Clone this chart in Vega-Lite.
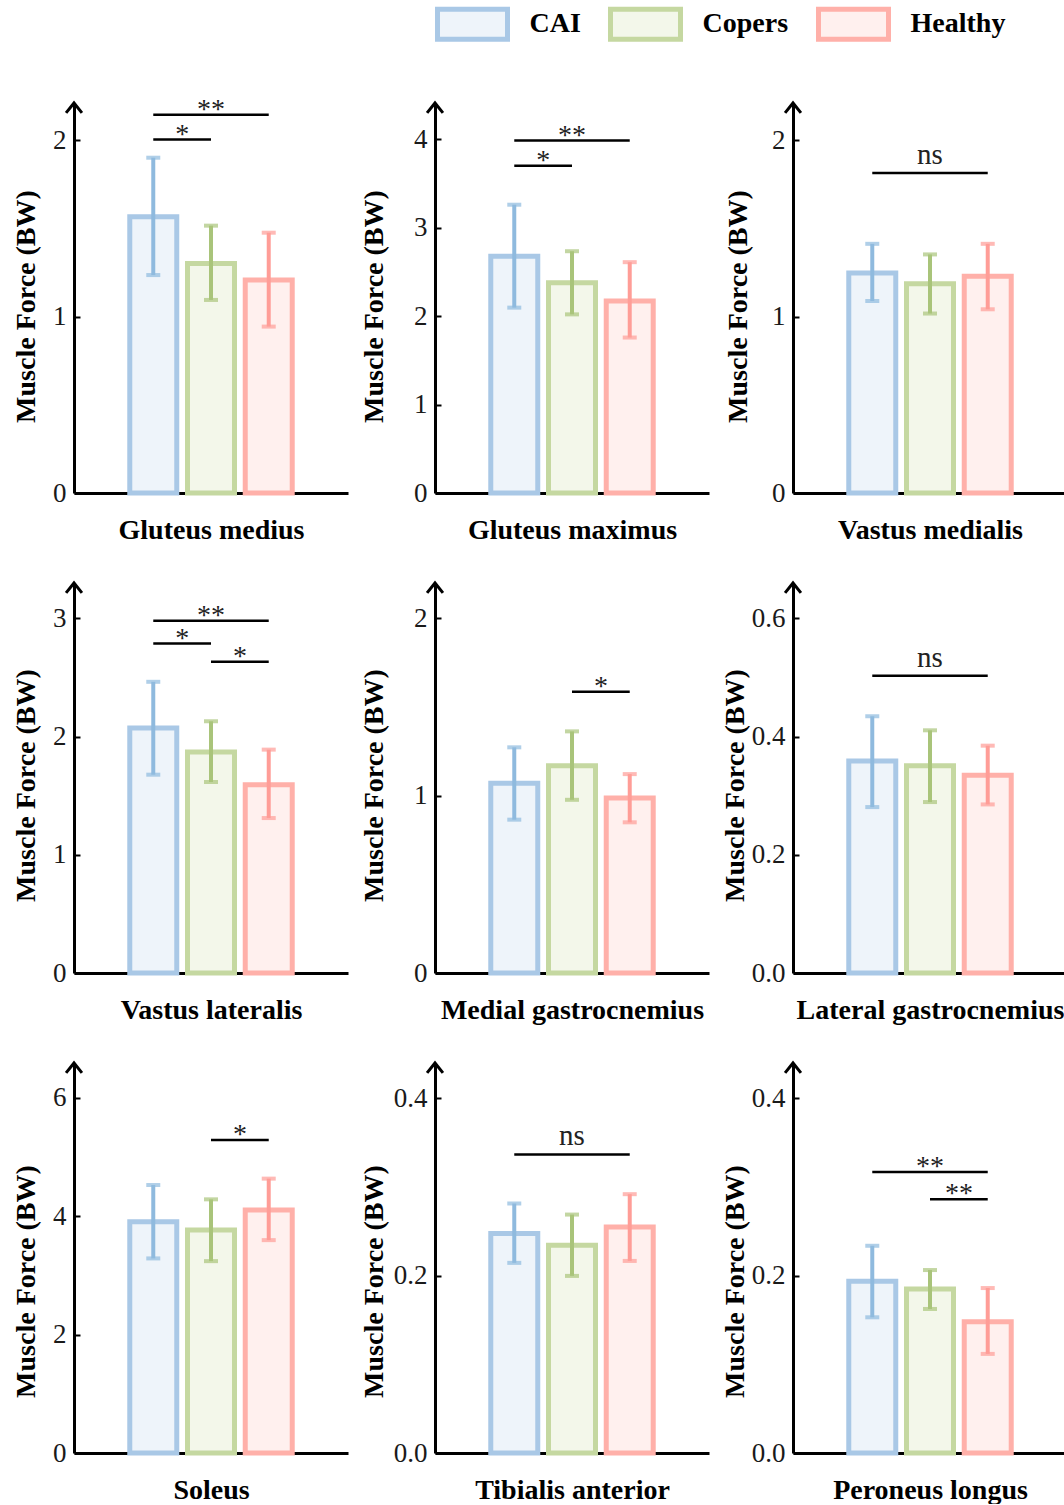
{
  "$schema": "https://vega.github.io/schema/vega-lite/v6.json",
  "autosize": {"type": "pad"},
  "padding": {"left": 12, "top": 6, "right": 0, "bottom": 0},
  "background": "white",
  "datasets": {
    "bars": [
      {"muscle": "Gluteus medius", "group": "CAI", "mean": 1.565, "lo": 1.235, "hi": 1.9},
      {"muscle": "Gluteus medius", "group": "Copers", "mean": 1.3, "lo": 1.094, "hi": 1.515},
      {"muscle": "Gluteus medius", "group": "Healthy", "mean": 1.207, "lo": 0.943, "hi": 1.475},
      {"muscle": "Gluteus maximus", "group": "CAI", "mean": 2.677, "lo": 2.096, "hi": 3.26},
      {"muscle": "Gluteus maximus", "group": "Copers", "mean": 2.378, "lo": 2.02, "hi": 2.734},
      {"muscle": "Gluteus maximus", "group": "Healthy", "mean": 2.17, "lo": 1.758, "hi": 2.61},
      {"muscle": "Vastus medialis", "group": "CAI", "mean": 1.246, "lo": 1.088, "hi": 1.412},
      {"muscle": "Vastus medialis", "group": "Copers", "mean": 1.186, "lo": 1.017, "hi": 1.352},
      {"muscle": "Vastus medialis", "group": "Healthy", "mean": 1.228, "lo": 1.041, "hi": 1.412},
      {"muscle": "Vastus lateralis", "group": "CAI", "mean": 2.074, "lo": 1.678, "hi": 2.464},
      {"muscle": "Vastus lateralis", "group": "Copers", "mean": 1.87, "lo": 1.616, "hi": 2.13},
      {"muscle": "Vastus lateralis", "group": "Healthy", "mean": 1.593, "lo": 1.311, "hi": 1.89},
      {"muscle": "Medial gastrocnemius", "group": "CAI", "mean": 1.07, "lo": 0.865, "hi": 1.273},
      {"muscle": "Medial gastrocnemius", "group": "Copers", "mean": 1.169, "lo": 0.977, "hi": 1.363},
      {"muscle": "Medial gastrocnemius", "group": "Healthy", "mean": 0.987, "lo": 0.85, "hi": 1.122},
      {"muscle": "Lateral gastrocnemius", "group": "CAI", "mean": 0.3588, "lo": 0.2808, "hi": 0.4345},
      {"muscle": "Lateral gastrocnemius", "group": "Copers", "mean": 0.3508, "lo": 0.2893, "hi": 0.4107},
      {"muscle": "Lateral gastrocnemius", "group": "Healthy", "mean": 0.3345, "lo": 0.2853, "hi": 0.3847},
      {"muscle": "Soleus", "group": "CAI", "mean": 3.909, "lo": 3.288, "hi": 4.528},
      {"muscle": "Soleus", "group": "Copers", "mean": 3.767, "lo": 3.242, "hi": 4.286},
      {"muscle": "Soleus", "group": "Healthy", "mean": 4.105, "lo": 3.597, "hi": 4.636},
      {"muscle": "Tibialis anterior", "group": "CAI", "mean": 0.2476, "lo": 0.2145, "hi": 0.2815},
      {"muscle": "Tibialis anterior", "group": "Copers", "mean": 0.2344, "lo": 0.1998, "hi": 0.269},
      {"muscle": "Tibialis anterior", "group": "Healthy", "mean": 0.2551, "lo": 0.2167, "hi": 0.292},
      {"muscle": "Peroneus longus", "group": "CAI", "mean": 0.1937, "lo": 0.1531, "hi": 0.2338},
      {"muscle": "Peroneus longus", "group": "Copers", "mean": 0.185, "lo": 0.1625, "hi": 0.2064},
      {"muscle": "Peroneus longus", "group": "Healthy", "mean": 0.1482, "lo": 0.1118, "hi": 0.1861}
    ],
    "sig": [
      {"muscle": "Gluteus medius", "from": "CAI", "to": "Copers", "y": 2.003, "label": "*"},
      {"muscle": "Gluteus medius", "from": "CAI", "to": "Healthy", "y": 2.143, "label": "**"},
      {"muscle": "Gluteus maximus", "from": "CAI", "to": "Copers", "y": 3.7, "label": "*"},
      {"muscle": "Gluteus maximus", "from": "CAI", "to": "Healthy", "y": 3.985, "label": "**"},
      {"muscle": "Vastus medialis", "from": "CAI", "to": "Healthy", "y": 1.813, "label": "ns"},
      {"muscle": "Vastus lateralis", "from": "CAI", "to": "Healthy", "y": 2.98, "label": "**"},
      {"muscle": "Vastus lateralis", "from": "CAI", "to": "Copers", "y": 2.788, "label": "*"},
      {"muscle": "Vastus lateralis", "from": "Copers", "to": "Healthy", "y": 2.633, "label": "*"},
      {"muscle": "Medial gastrocnemius", "from": "Copers", "to": "Healthy", "y": 1.587, "label": "*"},
      {"muscle": "Lateral gastrocnemius", "from": "CAI", "to": "Healthy", "y": 0.503, "label": "ns"},
      {"muscle": "Soleus", "from": "Copers", "to": "Healthy", "y": 5.29, "label": "*"},
      {"muscle": "Tibialis anterior", "from": "CAI", "to": "Healthy", "y": 0.3368, "label": "ns"},
      {"muscle": "Peroneus longus", "from": "CAI", "to": "Healthy", "y": 0.317, "label": "**"},
      {"muscle": "Peroneus longus", "from": "Copers", "to": "Healthy", "y": 0.2864, "label": "**"}
    ]
  },
  "columns": 3,
  "spacing": {"row": 33, "column": 12},
  "concat": [
    {
      "width": 274, "height": 390,
      "layer": [
        {"data": {"name": "bars"}, "transform": [{"filter": "datum.muscle === 'Gluteus medius'"}],
         "layer": [
          {"mark": {"type": "bar", "strokeWidth": 5},
           "encoding": {
             "x": {"field": "group", "type": "nominal", "scale": {"domain": ["CAI", "Copers", "Healthy"], "paddingInner": 0.186, "paddingOuter": 0.966}, "axis": {"title": "Gluteus medius", "labels": false, "values": ["Copers"]}},
             "y": {"field": "mean", "type": "quantitative", "scale": {"domain": [0, 2.21], "nice": false}, "axis": {"title": "Muscle Force (BW)", "values": [0, 1, 2], "format": "d", "titlePadding": 12.5, "titleY": 203}},
             "fill": {"field": "group", "type": "nominal", "title": null, "scale": {"domain": ["CAI", "Copers", "Healthy"], "range": ["#eef4fa", "#f3f7ea", "#fff0ee"]},
               "legend": {"orient": "none", "legendX": 361, "legendY": -96.5, "direction": "horizontal", "title": null}},
             "stroke": {"field": "group", "type": "nominal", "title": null, "scale": {"domain": ["CAI", "Copers", "Healthy"], "range": ["#a9c8e6", "#c5d8a1", "#ffb0a9"]},
               "legend": {"orient": "none", "legendX": 361, "legendY": -96.5, "direction": "horizontal", "title": null}}
           }},
          {"mark": {"type": "rule", "strokeWidth": 4},
           "encoding": {"x": {"field": "group", "type": "nominal"}, "y": {"field": "lo", "type": "quantitative"}, "y2": {"field": "hi"},
             "color": {"field": "group", "type": "nominal", "legend": null, "scale": {"domain": ["CAI", "Copers", "Healthy"], "range": ["#8fbade", "#a9c47a", "#ff9d97"]}}}},
          {"mark": {"type": "tick", "thickness": 4, "size": 14},
           "encoding": {"x": {"field": "group", "type": "nominal"}, "y": {"field": "lo", "type": "quantitative"}, "color": {"field": "group", "type": "nominal", "legend": null}}},
          {"mark": {"type": "tick", "thickness": 4, "size": 14},
           "encoding": {"x": {"field": "group", "type": "nominal"}, "y": {"field": "hi", "type": "quantitative"}, "color": {"field": "group", "type": "nominal", "legend": null}}}
         ]},
        {"data": {"name": "sig"}, "transform": [{"filter": "datum.muscle === 'Gluteus medius'"}],
         "layer": [
          {"mark": {"type": "rule", "strokeWidth": 2.5, "color": "black"},
           "encoding": {"x": {"field": "from", "type": "nominal", "bandPosition": 0.5}, "x2": {"field": "to", "bandPosition": 0.5}, "y": {"field": "y", "type": "quantitative"}}},
          {"transform": [{"filter": "datum.label === 'ns'"}], "mark": {"type": "text", "font": "Liberation Serif", "fontSize": 29, "color": "#222", "baseline": "alphabetic", "dy": -9, "dx": 57.7},
           "encoding": {"x": {"field": "from", "type": "nominal", "bandPosition": 0.5}, "y": {"field": "y", "type": "quantitative"}, "text": {"field": "label"}}},
          {"transform": [{"filter": "datum.label !== 'ns' && datum.from === 'CAI' && datum.to === 'Healthy'"}], "mark": {"type": "text", "font": "Liberation Serif", "fontSize": 28, "color": "#222", "baseline": "alphabetic", "dy": 3, "dx": 57.7},
           "encoding": {"x": {"field": "from", "type": "nominal", "bandPosition": 0.5}, "y": {"field": "y", "type": "quantitative"}, "text": {"field": "label"}}},
          {"transform": [{"filter": "datum.label !== 'ns' && !(datum.from === 'CAI' && datum.to === 'Healthy')"}], "mark": {"type": "text", "font": "Liberation Serif", "fontSize": 28, "color": "#222", "baseline": "alphabetic", "dy": 3, "dx": 28.9},
           "encoding": {"x": {"field": "from", "type": "nominal", "bandPosition": 0.5}, "y": {"field": "y", "type": "quantitative"}, "text": {"field": "label"}}}
         ]},
        {"data": {"values": [{}]}, "mark": {"type": "point", "shape": "M-0.6,0.75L0,0L0.6,0.75", "filled": false, "stroke": "black", "strokeWidth": 3, "size": 700, "opacity": 1},
         "encoding": {"x": {"value": 0}, "y": {"value": 0}}}
      ]
    },
    {
      "width": 274, "height": 390,
      "layer": [
        {"data": {"name": "bars"}, "transform": [{"filter": "datum.muscle === 'Gluteus maximus'"}],
         "layer": [
          {"mark": {"type": "bar", "strokeWidth": 5},
           "encoding": {
             "x": {"field": "group", "type": "nominal", "scale": {"domain": ["CAI", "Copers", "Healthy"], "paddingInner": 0.186, "paddingOuter": 0.966}, "axis": {"title": "Gluteus maximus", "labels": false, "values": ["Copers"]}},
             "y": {"field": "mean", "type": "quantitative", "scale": {"domain": [0, 4.41], "nice": false}, "axis": {"title": "Muscle Force (BW)", "values": [0, 1, 2, 3, 4], "format": "d", "titlePadding": 25.5, "titleY": 203}},
             "fill": {"field": "group", "type": "nominal", "title": null},
             "stroke": {"field": "group", "type": "nominal", "title": null}
           }},
          {"mark": {"type": "rule", "strokeWidth": 4},
           "encoding": {"x": {"field": "group", "type": "nominal"}, "y": {"field": "lo", "type": "quantitative"}, "y2": {"field": "hi"}, "color": {"field": "group", "type": "nominal", "legend": null}}},
          {"mark": {"type": "tick", "thickness": 4, "size": 14},
           "encoding": {"x": {"field": "group", "type": "nominal"}, "y": {"field": "lo", "type": "quantitative"}, "color": {"field": "group", "type": "nominal", "legend": null}}},
          {"mark": {"type": "tick", "thickness": 4, "size": 14},
           "encoding": {"x": {"field": "group", "type": "nominal"}, "y": {"field": "hi", "type": "quantitative"}, "color": {"field": "group", "type": "nominal", "legend": null}}}
         ]},
        {"data": {"name": "sig"}, "transform": [{"filter": "datum.muscle === 'Gluteus maximus'"}],
         "layer": [
          {"mark": {"type": "rule", "strokeWidth": 2.5, "color": "black"},
           "encoding": {"x": {"field": "from", "type": "nominal", "bandPosition": 0.5}, "x2": {"field": "to", "bandPosition": 0.5}, "y": {"field": "y", "type": "quantitative"}}},
          {"transform": [{"filter": "datum.label === 'ns'"}], "mark": {"type": "text", "font": "Liberation Serif", "fontSize": 29, "color": "#222", "baseline": "alphabetic", "dy": -9, "dx": 57.7},
           "encoding": {"x": {"field": "from", "type": "nominal", "bandPosition": 0.5}, "y": {"field": "y", "type": "quantitative"}, "text": {"field": "label"}}},
          {"transform": [{"filter": "datum.label !== 'ns' && datum.from === 'CAI' && datum.to === 'Healthy'"}], "mark": {"type": "text", "font": "Liberation Serif", "fontSize": 28, "color": "#222", "baseline": "alphabetic", "dy": 3, "dx": 57.7},
           "encoding": {"x": {"field": "from", "type": "nominal", "bandPosition": 0.5}, "y": {"field": "y", "type": "quantitative"}, "text": {"field": "label"}}},
          {"transform": [{"filter": "datum.label !== 'ns' && !(datum.from === 'CAI' && datum.to === 'Healthy')"}], "mark": {"type": "text", "font": "Liberation Serif", "fontSize": 28, "color": "#222", "baseline": "alphabetic", "dy": 3, "dx": 28.9},
           "encoding": {"x": {"field": "from", "type": "nominal", "bandPosition": 0.5}, "y": {"field": "y", "type": "quantitative"}, "text": {"field": "label"}}}
         ]},
        {"data": {"values": [{}]}, "mark": {"type": "point", "shape": "M-0.6,0.75L0,0L0.6,0.75", "filled": false, "stroke": "black", "strokeWidth": 3, "size": 700, "opacity": 1},
         "encoding": {"x": {"value": 0}, "y": {"value": 0}}}
      ]
    },
    {
      "width": 274, "height": 390,
      "layer": [
        {"data": {"name": "bars"}, "transform": [{"filter": "datum.muscle === 'Vastus medialis'"}],
         "layer": [
          {"mark": {"type": "bar", "strokeWidth": 5},
           "encoding": {
             "x": {"field": "group", "type": "nominal", "scale": {"domain": ["CAI", "Copers", "Healthy"], "paddingInner": 0.186, "paddingOuter": 0.966}, "axis": {"title": "Vastus medialis", "labels": false, "values": ["Copers"]}},
             "y": {"field": "mean", "type": "quantitative", "scale": {"domain": [0, 2.21], "nice": false}, "axis": {"title": "Muscle Force (BW)", "values": [0, 1, 2], "format": "d", "titlePadding": 19.5, "titleY": 203}},
             "fill": {"field": "group", "type": "nominal", "title": null},
             "stroke": {"field": "group", "type": "nominal", "title": null}
           }},
          {"mark": {"type": "rule", "strokeWidth": 4},
           "encoding": {"x": {"field": "group", "type": "nominal"}, "y": {"field": "lo", "type": "quantitative"}, "y2": {"field": "hi"}, "color": {"field": "group", "type": "nominal", "legend": null}}},
          {"mark": {"type": "tick", "thickness": 4, "size": 14},
           "encoding": {"x": {"field": "group", "type": "nominal"}, "y": {"field": "lo", "type": "quantitative"}, "color": {"field": "group", "type": "nominal", "legend": null}}},
          {"mark": {"type": "tick", "thickness": 4, "size": 14},
           "encoding": {"x": {"field": "group", "type": "nominal"}, "y": {"field": "hi", "type": "quantitative"}, "color": {"field": "group", "type": "nominal", "legend": null}}}
         ]},
        {"data": {"name": "sig"}, "transform": [{"filter": "datum.muscle === 'Vastus medialis'"}],
         "layer": [
          {"mark": {"type": "rule", "strokeWidth": 2.5, "color": "black"},
           "encoding": {"x": {"field": "from", "type": "nominal", "bandPosition": 0.5}, "x2": {"field": "to", "bandPosition": 0.5}, "y": {"field": "y", "type": "quantitative"}}},
          {"transform": [{"filter": "datum.label === 'ns'"}], "mark": {"type": "text", "font": "Liberation Serif", "fontSize": 29, "color": "#222", "baseline": "alphabetic", "dy": -9, "dx": 57.7},
           "encoding": {"x": {"field": "from", "type": "nominal", "bandPosition": 0.5}, "y": {"field": "y", "type": "quantitative"}, "text": {"field": "label"}}},
          {"transform": [{"filter": "datum.label !== 'ns' && datum.from === 'CAI' && datum.to === 'Healthy'"}], "mark": {"type": "text", "font": "Liberation Serif", "fontSize": 28, "color": "#222", "baseline": "alphabetic", "dy": 3, "dx": 57.7},
           "encoding": {"x": {"field": "from", "type": "nominal", "bandPosition": 0.5}, "y": {"field": "y", "type": "quantitative"}, "text": {"field": "label"}}},
          {"transform": [{"filter": "datum.label !== 'ns' && !(datum.from === 'CAI' && datum.to === 'Healthy')"}], "mark": {"type": "text", "font": "Liberation Serif", "fontSize": 28, "color": "#222", "baseline": "alphabetic", "dy": 3, "dx": 28.9},
           "encoding": {"x": {"field": "from", "type": "nominal", "bandPosition": 0.5}, "y": {"field": "y", "type": "quantitative"}, "text": {"field": "label"}}}
         ]},
        {"data": {"values": [{}]}, "mark": {"type": "point", "shape": "M-0.6,0.75L0,0L0.6,0.75", "filled": false, "stroke": "black", "strokeWidth": 3, "size": 700, "opacity": 1},
         "encoding": {"x": {"value": 0}, "y": {"value": 0}}}
      ]
    },
    {
      "width": 274, "height": 390,
      "layer": [
        {"data": {"name": "bars"}, "transform": [{"filter": "datum.muscle === 'Vastus lateralis'"}],
         "layer": [
          {"mark": {"type": "bar", "strokeWidth": 5},
           "encoding": {
             "x": {"field": "group", "type": "nominal", "scale": {"domain": ["CAI", "Copers", "Healthy"], "paddingInner": 0.186, "paddingOuter": 0.966}, "axis": {"title": "Vastus lateralis", "labels": false, "values": ["Copers"]}},
             "y": {"field": "mean", "type": "quantitative", "scale": {"domain": [0, 3.3], "nice": false}, "axis": {"title": "Muscle Force (BW)", "values": [0, 1, 2, 3], "format": "d", "titlePadding": 12.5, "titleY": 202}},
             "fill": {"field": "group", "type": "nominal", "title": null},
             "stroke": {"field": "group", "type": "nominal", "title": null}
           }},
          {"mark": {"type": "rule", "strokeWidth": 4},
           "encoding": {"x": {"field": "group", "type": "nominal"}, "y": {"field": "lo", "type": "quantitative"}, "y2": {"field": "hi"}, "color": {"field": "group", "type": "nominal", "legend": null}}},
          {"mark": {"type": "tick", "thickness": 4, "size": 14},
           "encoding": {"x": {"field": "group", "type": "nominal"}, "y": {"field": "lo", "type": "quantitative"}, "color": {"field": "group", "type": "nominal", "legend": null}}},
          {"mark": {"type": "tick", "thickness": 4, "size": 14},
           "encoding": {"x": {"field": "group", "type": "nominal"}, "y": {"field": "hi", "type": "quantitative"}, "color": {"field": "group", "type": "nominal", "legend": null}}}
         ]},
        {"data": {"name": "sig"}, "transform": [{"filter": "datum.muscle === 'Vastus lateralis'"}],
         "layer": [
          {"mark": {"type": "rule", "strokeWidth": 2.5, "color": "black"},
           "encoding": {"x": {"field": "from", "type": "nominal", "bandPosition": 0.5}, "x2": {"field": "to", "bandPosition": 0.5}, "y": {"field": "y", "type": "quantitative"}}},
          {"transform": [{"filter": "datum.label === 'ns'"}], "mark": {"type": "text", "font": "Liberation Serif", "fontSize": 29, "color": "#222", "baseline": "alphabetic", "dy": -9, "dx": 57.7},
           "encoding": {"x": {"field": "from", "type": "nominal", "bandPosition": 0.5}, "y": {"field": "y", "type": "quantitative"}, "text": {"field": "label"}}},
          {"transform": [{"filter": "datum.label !== 'ns' && datum.from === 'CAI' && datum.to === 'Healthy'"}], "mark": {"type": "text", "font": "Liberation Serif", "fontSize": 28, "color": "#222", "baseline": "alphabetic", "dy": 3, "dx": 57.7},
           "encoding": {"x": {"field": "from", "type": "nominal", "bandPosition": 0.5}, "y": {"field": "y", "type": "quantitative"}, "text": {"field": "label"}}},
          {"transform": [{"filter": "datum.label !== 'ns' && !(datum.from === 'CAI' && datum.to === 'Healthy')"}], "mark": {"type": "text", "font": "Liberation Serif", "fontSize": 28, "color": "#222", "baseline": "alphabetic", "dy": 3, "dx": 28.9},
           "encoding": {"x": {"field": "from", "type": "nominal", "bandPosition": 0.5}, "y": {"field": "y", "type": "quantitative"}, "text": {"field": "label"}}}
         ]},
        {"data": {"values": [{}]}, "mark": {"type": "point", "shape": "M-0.6,0.75L0,0L0.6,0.75", "filled": false, "stroke": "black", "strokeWidth": 3, "size": 700, "opacity": 1},
         "encoding": {"x": {"value": 0}, "y": {"value": 0}}}
      ]
    },
    {
      "width": 274, "height": 390,
      "layer": [
        {"data": {"name": "bars"}, "transform": [{"filter": "datum.muscle === 'Medial gastrocnemius'"}],
         "layer": [
          {"mark": {"type": "bar", "strokeWidth": 5},
           "encoding": {
             "x": {"field": "group", "type": "nominal", "scale": {"domain": ["CAI", "Copers", "Healthy"], "paddingInner": 0.186, "paddingOuter": 0.966}, "axis": {"title": "Medial gastrocnemius", "labels": false, "values": ["Copers"]}},
             "y": {"field": "mean", "type": "quantitative", "scale": {"domain": [0, 2.2], "nice": false}, "axis": {"title": "Muscle Force (BW)", "values": [0, 1, 2], "format": "d", "titlePadding": 25.5, "titleY": 202}},
             "fill": {"field": "group", "type": "nominal", "title": null},
             "stroke": {"field": "group", "type": "nominal", "title": null}
           }},
          {"mark": {"type": "rule", "strokeWidth": 4},
           "encoding": {"x": {"field": "group", "type": "nominal"}, "y": {"field": "lo", "type": "quantitative"}, "y2": {"field": "hi"}, "color": {"field": "group", "type": "nominal", "legend": null}}},
          {"mark": {"type": "tick", "thickness": 4, "size": 14},
           "encoding": {"x": {"field": "group", "type": "nominal"}, "y": {"field": "lo", "type": "quantitative"}, "color": {"field": "group", "type": "nominal", "legend": null}}},
          {"mark": {"type": "tick", "thickness": 4, "size": 14},
           "encoding": {"x": {"field": "group", "type": "nominal"}, "y": {"field": "hi", "type": "quantitative"}, "color": {"field": "group", "type": "nominal", "legend": null}}}
         ]},
        {"data": {"name": "sig"}, "transform": [{"filter": "datum.muscle === 'Medial gastrocnemius'"}],
         "layer": [
          {"mark": {"type": "rule", "strokeWidth": 2.5, "color": "black"},
           "encoding": {"x": {"field": "from", "type": "nominal", "bandPosition": 0.5}, "x2": {"field": "to", "bandPosition": 0.5}, "y": {"field": "y", "type": "quantitative"}}},
          {"transform": [{"filter": "datum.label === 'ns'"}], "mark": {"type": "text", "font": "Liberation Serif", "fontSize": 29, "color": "#222", "baseline": "alphabetic", "dy": -9, "dx": 57.7},
           "encoding": {"x": {"field": "from", "type": "nominal", "bandPosition": 0.5}, "y": {"field": "y", "type": "quantitative"}, "text": {"field": "label"}}},
          {"transform": [{"filter": "datum.label !== 'ns' && datum.from === 'CAI' && datum.to === 'Healthy'"}], "mark": {"type": "text", "font": "Liberation Serif", "fontSize": 28, "color": "#222", "baseline": "alphabetic", "dy": 3, "dx": 57.7},
           "encoding": {"x": {"field": "from", "type": "nominal", "bandPosition": 0.5}, "y": {"field": "y", "type": "quantitative"}, "text": {"field": "label"}}},
          {"transform": [{"filter": "datum.label !== 'ns' && !(datum.from === 'CAI' && datum.to === 'Healthy')"}], "mark": {"type": "text", "font": "Liberation Serif", "fontSize": 28, "color": "#222", "baseline": "alphabetic", "dy": 3, "dx": 28.9},
           "encoding": {"x": {"field": "from", "type": "nominal", "bandPosition": 0.5}, "y": {"field": "y", "type": "quantitative"}, "text": {"field": "label"}}}
         ]},
        {"data": {"values": [{}]}, "mark": {"type": "point", "shape": "M-0.6,0.75L0,0L0.6,0.75", "filled": false, "stroke": "black", "strokeWidth": 3, "size": 700, "opacity": 1},
         "encoding": {"x": {"value": 0}, "y": {"value": 0}}}
      ]
    },
    {
      "width": 274, "height": 390,
      "layer": [
        {"data": {"name": "bars"}, "transform": [{"filter": "datum.muscle === 'Lateral gastrocnemius'"}],
         "layer": [
          {"mark": {"type": "bar", "strokeWidth": 5},
           "encoding": {
             "x": {"field": "group", "type": "nominal", "scale": {"domain": ["CAI", "Copers", "Healthy"], "paddingInner": 0.186, "paddingOuter": 0.966}, "axis": {"title": "Lateral gastrocnemius", "labels": false, "values": ["Copers"]}},
             "y": {"field": "mean", "type": "quantitative", "scale": {"domain": [0, 0.66], "nice": false}, "axis": {"title": "Muscle Force (BW)", "values": [0, 0.2, 0.4, 0.6], "format": ".1f", "titlePadding": 2, "titleY": 202}},
             "fill": {"field": "group", "type": "nominal", "title": null},
             "stroke": {"field": "group", "type": "nominal", "title": null}
           }},
          {"mark": {"type": "rule", "strokeWidth": 4},
           "encoding": {"x": {"field": "group", "type": "nominal"}, "y": {"field": "lo", "type": "quantitative"}, "y2": {"field": "hi"}, "color": {"field": "group", "type": "nominal", "legend": null}}},
          {"mark": {"type": "tick", "thickness": 4, "size": 14},
           "encoding": {"x": {"field": "group", "type": "nominal"}, "y": {"field": "lo", "type": "quantitative"}, "color": {"field": "group", "type": "nominal", "legend": null}}},
          {"mark": {"type": "tick", "thickness": 4, "size": 14},
           "encoding": {"x": {"field": "group", "type": "nominal"}, "y": {"field": "hi", "type": "quantitative"}, "color": {"field": "group", "type": "nominal", "legend": null}}}
         ]},
        {"data": {"name": "sig"}, "transform": [{"filter": "datum.muscle === 'Lateral gastrocnemius'"}],
         "layer": [
          {"mark": {"type": "rule", "strokeWidth": 2.5, "color": "black"},
           "encoding": {"x": {"field": "from", "type": "nominal", "bandPosition": 0.5}, "x2": {"field": "to", "bandPosition": 0.5}, "y": {"field": "y", "type": "quantitative"}}},
          {"transform": [{"filter": "datum.label === 'ns'"}], "mark": {"type": "text", "font": "Liberation Serif", "fontSize": 29, "color": "#222", "baseline": "alphabetic", "dy": -9, "dx": 57.7},
           "encoding": {"x": {"field": "from", "type": "nominal", "bandPosition": 0.5}, "y": {"field": "y", "type": "quantitative"}, "text": {"field": "label"}}},
          {"transform": [{"filter": "datum.label !== 'ns' && datum.from === 'CAI' && datum.to === 'Healthy'"}], "mark": {"type": "text", "font": "Liberation Serif", "fontSize": 28, "color": "#222", "baseline": "alphabetic", "dy": 3, "dx": 57.7},
           "encoding": {"x": {"field": "from", "type": "nominal", "bandPosition": 0.5}, "y": {"field": "y", "type": "quantitative"}, "text": {"field": "label"}}},
          {"transform": [{"filter": "datum.label !== 'ns' && !(datum.from === 'CAI' && datum.to === 'Healthy')"}], "mark": {"type": "text", "font": "Liberation Serif", "fontSize": 28, "color": "#222", "baseline": "alphabetic", "dy": 3, "dx": 28.9},
           "encoding": {"x": {"field": "from", "type": "nominal", "bandPosition": 0.5}, "y": {"field": "y", "type": "quantitative"}, "text": {"field": "label"}}}
         ]},
        {"data": {"values": [{}]}, "mark": {"type": "point", "shape": "M-0.6,0.75L0,0L0.6,0.75", "filled": false, "stroke": "black", "strokeWidth": 3, "size": 700, "opacity": 1},
         "encoding": {"x": {"value": 0}, "y": {"value": 0}}}
      ]
    },
    {
      "width": 274, "height": 390,
      "layer": [
        {"data": {"name": "bars"}, "transform": [{"filter": "datum.muscle === 'Soleus'"}],
         "layer": [
          {"mark": {"type": "bar", "strokeWidth": 5},
           "encoding": {
             "x": {"field": "group", "type": "nominal", "scale": {"domain": ["CAI", "Copers", "Healthy"], "paddingInner": 0.186, "paddingOuter": 0.966}, "axis": {"title": "Soleus", "labels": false, "values": ["Copers"]}},
             "y": {"field": "mean", "type": "quantitative", "scale": {"domain": [0, 6.59], "nice": false}, "axis": {"title": "Muscle Force (BW)", "values": [0, 2, 4, 6], "format": "d", "titlePadding": 12.5, "titleY": 218}},
             "fill": {"field": "group", "type": "nominal", "title": null},
             "stroke": {"field": "group", "type": "nominal", "title": null}
           }},
          {"mark": {"type": "rule", "strokeWidth": 4},
           "encoding": {"x": {"field": "group", "type": "nominal"}, "y": {"field": "lo", "type": "quantitative"}, "y2": {"field": "hi"}, "color": {"field": "group", "type": "nominal", "legend": null}}},
          {"mark": {"type": "tick", "thickness": 4, "size": 14},
           "encoding": {"x": {"field": "group", "type": "nominal"}, "y": {"field": "lo", "type": "quantitative"}, "color": {"field": "group", "type": "nominal", "legend": null}}},
          {"mark": {"type": "tick", "thickness": 4, "size": 14},
           "encoding": {"x": {"field": "group", "type": "nominal"}, "y": {"field": "hi", "type": "quantitative"}, "color": {"field": "group", "type": "nominal", "legend": null}}}
         ]},
        {"data": {"name": "sig"}, "transform": [{"filter": "datum.muscle === 'Soleus'"}],
         "layer": [
          {"mark": {"type": "rule", "strokeWidth": 2.5, "color": "black"},
           "encoding": {"x": {"field": "from", "type": "nominal", "bandPosition": 0.5}, "x2": {"field": "to", "bandPosition": 0.5}, "y": {"field": "y", "type": "quantitative"}}},
          {"transform": [{"filter": "datum.label === 'ns'"}], "mark": {"type": "text", "font": "Liberation Serif", "fontSize": 29, "color": "#222", "baseline": "alphabetic", "dy": -9, "dx": 57.7},
           "encoding": {"x": {"field": "from", "type": "nominal", "bandPosition": 0.5}, "y": {"field": "y", "type": "quantitative"}, "text": {"field": "label"}}},
          {"transform": [{"filter": "datum.label !== 'ns' && datum.from === 'CAI' && datum.to === 'Healthy'"}], "mark": {"type": "text", "font": "Liberation Serif", "fontSize": 28, "color": "#222", "baseline": "alphabetic", "dy": 3, "dx": 57.7},
           "encoding": {"x": {"field": "from", "type": "nominal", "bandPosition": 0.5}, "y": {"field": "y", "type": "quantitative"}, "text": {"field": "label"}}},
          {"transform": [{"filter": "datum.label !== 'ns' && !(datum.from === 'CAI' && datum.to === 'Healthy')"}], "mark": {"type": "text", "font": "Liberation Serif", "fontSize": 28, "color": "#222", "baseline": "alphabetic", "dy": 3, "dx": 28.9},
           "encoding": {"x": {"field": "from", "type": "nominal", "bandPosition": 0.5}, "y": {"field": "y", "type": "quantitative"}, "text": {"field": "label"}}}
         ]},
        {"data": {"values": [{}]}, "mark": {"type": "point", "shape": "M-0.6,0.75L0,0L0.6,0.75", "filled": false, "stroke": "black", "strokeWidth": 3, "size": 700, "opacity": 1},
         "encoding": {"x": {"value": 0}, "y": {"value": 0}}}
      ]
    },
    {
      "width": 274, "height": 390,
      "layer": [
        {"data": {"name": "bars"}, "transform": [{"filter": "datum.muscle === 'Tibialis anterior'"}],
         "layer": [
          {"mark": {"type": "bar", "strokeWidth": 5},
           "encoding": {
             "x": {"field": "group", "type": "nominal", "scale": {"domain": ["CAI", "Copers", "Healthy"], "paddingInner": 0.186, "paddingOuter": 0.966}, "axis": {"title": "Tibialis anterior", "labels": false, "values": ["Copers"]}},
             "y": {"field": "mean", "type": "quantitative", "scale": {"domain": [0, 0.44], "nice": false}, "axis": {"title": "Muscle Force (BW)", "values": [0, 0.2, 0.4], "format": ".1f", "titlePadding": 5, "titleY": 218}},
             "fill": {"field": "group", "type": "nominal", "title": null},
             "stroke": {"field": "group", "type": "nominal", "title": null}
           }},
          {"mark": {"type": "rule", "strokeWidth": 4},
           "encoding": {"x": {"field": "group", "type": "nominal"}, "y": {"field": "lo", "type": "quantitative"}, "y2": {"field": "hi"}, "color": {"field": "group", "type": "nominal", "legend": null}}},
          {"mark": {"type": "tick", "thickness": 4, "size": 14},
           "encoding": {"x": {"field": "group", "type": "nominal"}, "y": {"field": "lo", "type": "quantitative"}, "color": {"field": "group", "type": "nominal", "legend": null}}},
          {"mark": {"type": "tick", "thickness": 4, "size": 14},
           "encoding": {"x": {"field": "group", "type": "nominal"}, "y": {"field": "hi", "type": "quantitative"}, "color": {"field": "group", "type": "nominal", "legend": null}}}
         ]},
        {"data": {"name": "sig"}, "transform": [{"filter": "datum.muscle === 'Tibialis anterior'"}],
         "layer": [
          {"mark": {"type": "rule", "strokeWidth": 2.5, "color": "black"},
           "encoding": {"x": {"field": "from", "type": "nominal", "bandPosition": 0.5}, "x2": {"field": "to", "bandPosition": 0.5}, "y": {"field": "y", "type": "quantitative"}}},
          {"transform": [{"filter": "datum.label === 'ns'"}], "mark": {"type": "text", "font": "Liberation Serif", "fontSize": 29, "color": "#222", "baseline": "alphabetic", "dy": -9, "dx": 57.7},
           "encoding": {"x": {"field": "from", "type": "nominal", "bandPosition": 0.5}, "y": {"field": "y", "type": "quantitative"}, "text": {"field": "label"}}},
          {"transform": [{"filter": "datum.label !== 'ns' && datum.from === 'CAI' && datum.to === 'Healthy'"}], "mark": {"type": "text", "font": "Liberation Serif", "fontSize": 28, "color": "#222", "baseline": "alphabetic", "dy": 3, "dx": 57.7},
           "encoding": {"x": {"field": "from", "type": "nominal", "bandPosition": 0.5}, "y": {"field": "y", "type": "quantitative"}, "text": {"field": "label"}}},
          {"transform": [{"filter": "datum.label !== 'ns' && !(datum.from === 'CAI' && datum.to === 'Healthy')"}], "mark": {"type": "text", "font": "Liberation Serif", "fontSize": 28, "color": "#222", "baseline": "alphabetic", "dy": 3, "dx": 28.9},
           "encoding": {"x": {"field": "from", "type": "nominal", "bandPosition": 0.5}, "y": {"field": "y", "type": "quantitative"}, "text": {"field": "label"}}}
         ]},
        {"data": {"values": [{}]}, "mark": {"type": "point", "shape": "M-0.6,0.75L0,0L0.6,0.75", "filled": false, "stroke": "black", "strokeWidth": 3, "size": 700, "opacity": 1},
         "encoding": {"x": {"value": 0}, "y": {"value": 0}}}
      ]
    },
    {
      "width": 274, "height": 390,
      "layer": [
        {"data": {"name": "bars"}, "transform": [{"filter": "datum.muscle === 'Peroneus longus'"}],
         "layer": [
          {"mark": {"type": "bar", "strokeWidth": 5},
           "encoding": {
             "x": {"field": "group", "type": "nominal", "scale": {"domain": ["CAI", "Copers", "Healthy"], "paddingInner": 0.186, "paddingOuter": 0.966}, "axis": {"title": "Peroneus longus", "labels": false, "values": ["Copers"]}},
             "y": {"field": "mean", "type": "quantitative", "scale": {"domain": [0, 0.44], "nice": false}, "axis": {"title": "Muscle Force (BW)", "values": [0, 0.2, 0.4], "format": ".1f", "titlePadding": 2, "titleY": 218}},
             "fill": {"field": "group", "type": "nominal", "title": null},
             "stroke": {"field": "group", "type": "nominal", "title": null}
           }},
          {"mark": {"type": "rule", "strokeWidth": 4},
           "encoding": {"x": {"field": "group", "type": "nominal"}, "y": {"field": "lo", "type": "quantitative"}, "y2": {"field": "hi"}, "color": {"field": "group", "type": "nominal", "legend": null}}},
          {"mark": {"type": "tick", "thickness": 4, "size": 14},
           "encoding": {"x": {"field": "group", "type": "nominal"}, "y": {"field": "lo", "type": "quantitative"}, "color": {"field": "group", "type": "nominal", "legend": null}}},
          {"mark": {"type": "tick", "thickness": 4, "size": 14},
           "encoding": {"x": {"field": "group", "type": "nominal"}, "y": {"field": "hi", "type": "quantitative"}, "color": {"field": "group", "type": "nominal", "legend": null}}}
         ]},
        {"data": {"name": "sig"}, "transform": [{"filter": "datum.muscle === 'Peroneus longus'"}],
         "layer": [
          {"mark": {"type": "rule", "strokeWidth": 2.5, "color": "black"},
           "encoding": {"x": {"field": "from", "type": "nominal", "bandPosition": 0.5}, "x2": {"field": "to", "bandPosition": 0.5}, "y": {"field": "y", "type": "quantitative"}}},
          {"transform": [{"filter": "datum.label === 'ns'"}], "mark": {"type": "text", "font": "Liberation Serif", "fontSize": 29, "color": "#222", "baseline": "alphabetic", "dy": -9, "dx": 57.7},
           "encoding": {"x": {"field": "from", "type": "nominal", "bandPosition": 0.5}, "y": {"field": "y", "type": "quantitative"}, "text": {"field": "label"}}},
          {"transform": [{"filter": "datum.label !== 'ns' && datum.from === 'CAI' && datum.to === 'Healthy'"}], "mark": {"type": "text", "font": "Liberation Serif", "fontSize": 28, "color": "#222", "baseline": "alphabetic", "dy": 3, "dx": 57.7},
           "encoding": {"x": {"field": "from", "type": "nominal", "bandPosition": 0.5}, "y": {"field": "y", "type": "quantitative"}, "text": {"field": "label"}}},
          {"transform": [{"filter": "datum.label !== 'ns' && !(datum.from === 'CAI' && datum.to === 'Healthy')"}], "mark": {"type": "text", "font": "Liberation Serif", "fontSize": 28, "color": "#222", "baseline": "alphabetic", "dy": 3, "dx": 28.9},
           "encoding": {"x": {"field": "from", "type": "nominal", "bandPosition": 0.5}, "y": {"field": "y", "type": "quantitative"}, "text": {"field": "label"}}}
         ]},
        {"data": {"values": [{}]}, "mark": {"type": "point", "shape": "M-0.6,0.75L0,0L0.6,0.75", "filled": false, "stroke": "black", "strokeWidth": 3, "size": 700, "opacity": 1},
         "encoding": {"x": {"value": 0}, "y": {"value": 0}}}
      ]
    }
  ],
  "config": {
    "view": {"stroke": null},
    "font": "Liberation Serif",
    "axis": {"grid": false, "domainColor": "black", "domainWidth": 3, "tickColor": "black", "tickWidth": 2,
      "labelFont": "Liberation Serif", "labelFontSize": 27, "labelColor": "#1a1a1a",
      "titleFont": "Liberation Serif", "titleFontSize": 28, "titleFontWeight": "bold", "titleColor": "black", "zindex": 1},
    "axisY": {"tickSize": -6, "labelPadding": 14},
    "axisX": {"tickSize": -5, "titlePadding": 22},
    "legend": {"padding": 0,
      "symbolType": "M-1,-1L3.667,-1L3.667,1L-1,1Z", "symbolSize": 900, "symbolStrokeWidth": 5,
      "labelFont": "Liberation Serif", "labelFontSize": 28, "labelFontWeight": "bold", "labelColor": "black",
      "labelOffset": 59.5, "columnPadding": 19, "titlePadding": 0}
  }
}
